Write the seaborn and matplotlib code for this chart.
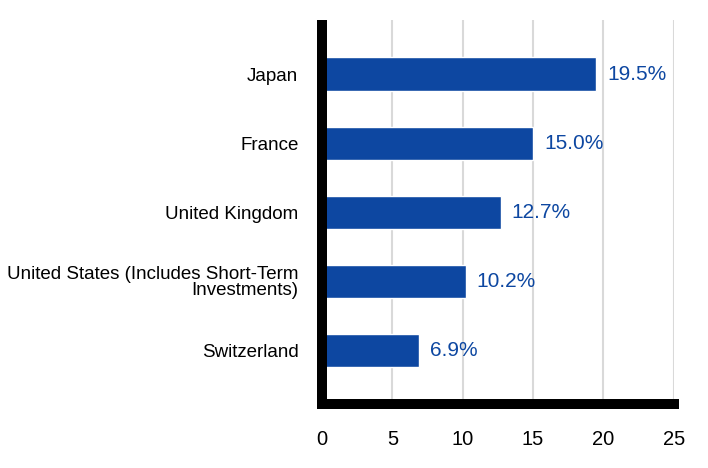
import pandas as pd
import matplotlib.pyplot as plt
import seaborn as sns

# Data

countries = [
    "Japan",
    "France",
    "United Kingdom",
    "United States (Includes Short-Term\nInvestments)",
    "Switzerland"
]
weights = [19.5, 15.0, 12.7, 10.2, 6.9]

df = pd.DataFrame({"country": countries, "weight": weights})

# Style

sns.set_theme(style="white")
plt.rcParams["font.family"] = ["Liberation Sans", "DejaVu Sans"]

bar_color = "#0d47a1"

fig = plt.figure(figsize=(7.08, 4.68), dpi=100)
ax = fig.add_axes([0.4548, 0.1368, 0.497, 0.820])

sns.barplot(
    data=df,
    x="weight",
    y="country",
    orient="h",
    color=bar_color,
    width=0.48,
    saturation=1,
    ax=ax
)

ax.bar_label(
    ax.containers[0],
    labels=[f"{v:.1f}%" for v in weights],
    padding=8,
    color=bar_color,
    fontsize=15
)

ax.set_xlim(0, 25)
ax.set_ylim(4.78, -0.78)
ax.set_xticks([0, 5, 10, 15, 20, 25])
ax.set_xlabel("")
ax.set_ylabel("")

ax.xaxis.grid(True, color="#d9d9d9", linewidth=1.5)
ax.set_axisbelow(True)

for side in ["top", "right"]:
    ax.spines[side].set_visible(False)
ax.spines["left"].set_linewidth(7.2)
ax.spines["bottom"].set_linewidth(7.2)
ax.spines["left"].set_color("black")
ax.spines["bottom"].set_color("black")
ax.spines["left"].set_capstyle("butt")
ax.spines["left"].set_zorder(5)
ax.spines["bottom"].set_zorder(5)

ax.tick_params(axis="x", length=0, pad=19, labelsize=14.5, labelcolor="black")
ax.tick_params(axis="y", length=0, pad=17, labelsize=13.5, labelcolor="black")
for lbl in ax.get_yticklabels():
    lbl.set_horizontalalignment("right")
    lbl.set_multialignment("right")
    lbl.set_linespacing(0.95)

fig.savefig("out.png", dpi=100)
